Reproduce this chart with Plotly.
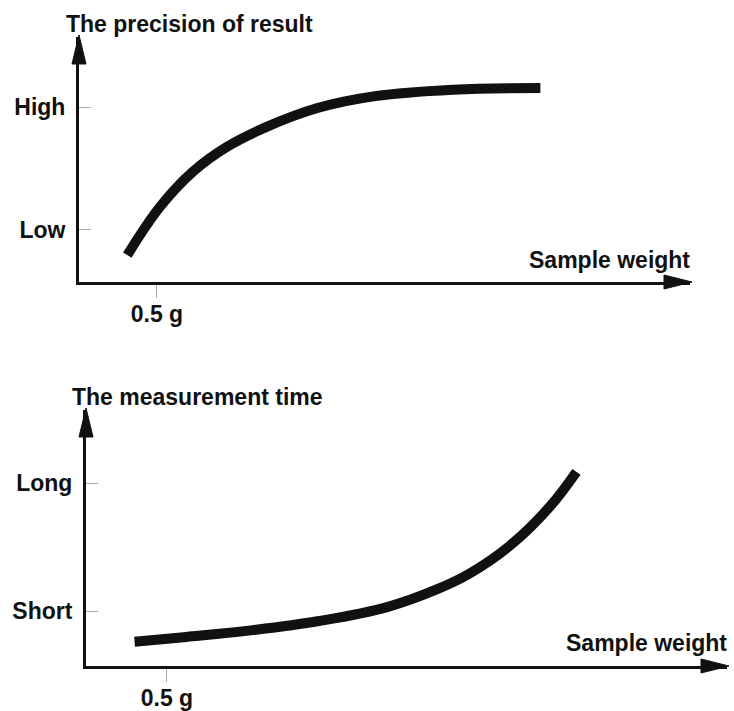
import plotly.graph_objects as go

# ---- data ----
# Top chart: precision of result vs sample weight (g)
precision_weight_g = [0.31, 0.52, 0.73, 0.95, 1.20, 1.53, 1.90, 2.40, 2.96]
precision_level = [0.154, 0.430, 0.630, 0.773, 0.885, 0.994, 1.062, 1.099, 1.108]
precision_tick_vals = [0.3, 1.0]
precision_tick_text = ["Low", "High"]

# Bottom chart: measurement time vs sample weight (g)
time_weight_g = [0.30, 0.62, 1.03, 1.44, 1.86, 2.17, 2.37, 2.62, 2.86, 3.03]
time_level = [0.133, 0.159, 0.196, 0.246, 0.322, 0.420, 0.506, 0.659, 0.866, 1.062]
time_tick_vals = [0.3, 1.0]
time_tick_text = ["Short", "Long"]

weight_tick_vals = [0.5]
weight_tick_text = ["0.5 g"]

top_title = "The precision of result"
bottom_title = "The measurement time"
x_title = "Sample weight"

# ---- layout constants ----
W, H = 734, 711
INK = "#111111"
FONT = "Liberation Sans, Arial, sans-serif"
FS = 23
top_xmax, top_ymax = 3.92, 1.40
bot_xmax, bot_ymax = 3.96, 1.40

# panel frames in pixels: (left, right, bottom, top)
top_box = (79, 690, 282, 37)
bot_box = (86, 727, 666, 410)


def fx(v):
    return v / W


def fy(v):
    return 1 - v / H


fig = go.Figure()
fig.add_trace(go.Scatter(x=precision_weight_g, y=precision_level, mode="lines",
                         line=dict(color=INK, width=10, shape="spline", smoothing=1.1),
                         xaxis="x", yaxis="y", showlegend=False, hoverinfo="skip"))
fig.add_trace(go.Scatter(x=time_weight_g, y=time_level, mode="lines",
                         line=dict(color=INK, width=10, shape="spline", smoothing=1.1),
                         xaxis="x2", yaxis="y2", showlegend=False, hoverinfo="skip"))

tickfont = dict(family=FONT, size=FS, color=INK, weight="bold")

xcommon = dict(showgrid=False, zeroline=False, showline=True, linewidth=3, linecolor=INK,
               tickmode="array", tickvals=weight_tick_vals, ticktext=weight_tick_text,
               ticks="outside", ticklen=13, tickwidth=1, tickcolor="#aaaaaa",
               tickfont=tickfont, ticklabelstandoff=-4, fixedrange=True, automargin=False)
ycommon = dict(showgrid=False, zeroline=False, showline=True, linewidth=3, linecolor=INK,
               tickmode="array", ticks="inside", ticklen=12, tickwidth=1, tickcolor="#aaaaaa",
               tickfont=tickfont, ticklabelstandoff=6, fixedrange=True, automargin=False)

fig.update_layout(
    width=W, height=H,
    margin=dict(l=0, r=0, t=0, b=0, autoexpand=False),
    paper_bgcolor="white", plot_bgcolor="rgba(0,0,0,0)",
    xaxis=dict(xcommon, domain=[fx(top_box[0]), fx(top_box[1])], range=[0, top_xmax], anchor="y"),
    yaxis=dict(ycommon, domain=[fy(top_box[2]), fy(top_box[3])], range=[0, top_ymax], anchor="x",
               tickvals=precision_tick_vals, ticktext=precision_tick_text),
    xaxis2=dict(xcommon, domain=[fx(bot_box[0]), fx(bot_box[1])], range=[0, bot_xmax], anchor="y2"),
    yaxis2=dict(ycommon, domain=[fy(bot_box[2]), fy(bot_box[3])], range=[0, bot_ymax], anchor="x2",
                tickvals=time_tick_vals, ticktext=time_tick_text),
)


# arrowheads at the axis ends (pixel-sized paths anchored in paper space)
def arrow_right(box):
    return dict(type="path", xref="paper", yref="paper", xsizemode="pixel", ysizemode="pixel",
                xanchor=fx(box[1]), yanchor=fy(box[2]), path="M2,0 L-26,7 L-26,-7 Z",
                fillcolor=INK, line=dict(color=INK, width=1))


def arrow_up(box):
    return dict(type="path", xref="paper", yref="paper", xsizemode="pixel", ysizemode="pixel",
                xanchor=fx(box[0]), yanchor=fy(box[3]), path="M0,2 L-7,-27 L7,-27 Z",
                fillcolor=INK, line=dict(color=INK, width=1))


fig.update_layout(shapes=[arrow_right(top_box), arrow_up(top_box),
                          arrow_right(bot_box), arrow_up(bot_box)])

tfont = dict(family=FONT, size=FS, color=INK, weight="bold")
fig.update_layout(annotations=[
    dict(text=top_title, x=fx(64), y=fy(24), xref="paper", yref="paper",
         xanchor="left", yanchor="middle", showarrow=False, font=tfont),
    dict(text=x_title, x=fx(692), y=fy(260), xref="paper", yref="paper",
         xanchor="right", yanchor="middle", showarrow=False, font=tfont),
    dict(text=bottom_title, x=fx(70), y=fy(397), xref="paper", yref="paper",
         xanchor="left", yanchor="middle", showarrow=False, font=tfont),
    dict(text=x_title, x=fx(729), y=fy(643), xref="paper", yref="paper",
         xanchor="right", yanchor="middle", showarrow=False, font=tfont),
])

fig.write_html("out.html", config={"displayModeBar": False},
               post_script="document.body.style.margin='0px';document.body.style.overflow='hidden';")
